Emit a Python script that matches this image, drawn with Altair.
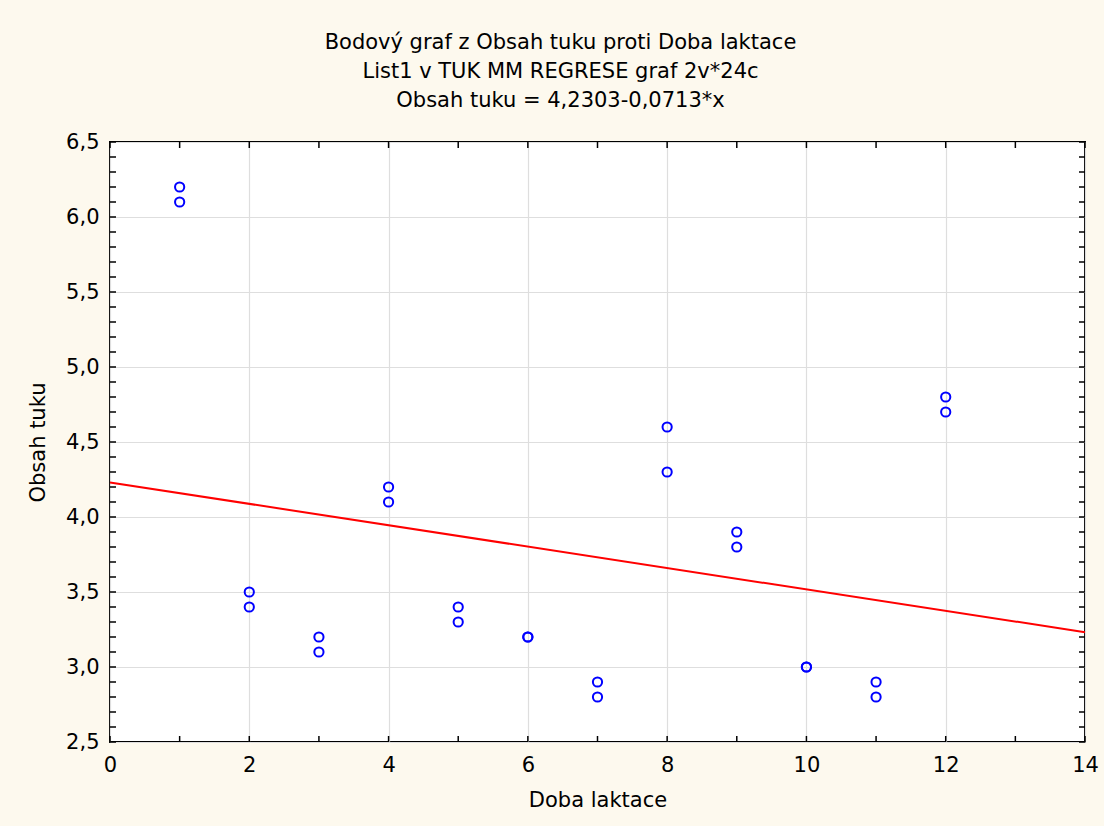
import altair as alt
import numpy as np
import pandas as pd

# Lactation period (months) and fat content measured for each cow sample
doba_laktace = [1, 1, 2, 2, 3, 3, 4, 4, 5, 5, 6, 6,
                7, 7, 8, 8, 9, 9, 10, 10, 11, 11, 12, 12]
obsah_tuku = [6.2, 6.1, 3.5, 3.4, 3.2, 3.1, 4.2, 4.1, 3.4, 3.3, 3.2, 3.2,
              2.9, 2.8, 4.6, 4.3, 3.9, 3.8, 3.0, 3.0, 2.9, 2.8, 4.8, 4.7]

# Fitted regression: Obsah tuku = 4,2303 - 0,0713 * x
intercept = 4.2303
slope = -0.0713
x_range = [0, 14]

x_ticks = list(range(0, 15, 2))
y_ticks = [2.5, 3.0, 3.5, 4.0, 4.5, 5.0, 5.5, 6.0, 6.5]

title_lines = [
    "Bodový graf z Obsah tuku proti Doba laktace",
    "List1 v TUK MM REGRESE graf 2v*24c",
    "Obsah tuku = 4,2303-0,0713*x",
]

W, H = 975, 600
FONT = "DejaVu Sans"

points = pd.DataFrame({"doba": doba_laktace, "obsah": obsah_tuku})
fit = pd.DataFrame({"doba": x_range,
                    "obsah": [intercept + slope * v for v in x_range]})
minor_y = pd.DataFrame({"obsah": np.round(np.arange(2.5, 6.5001, 0.1), 1)})
minor_x = pd.DataFrame({"doba": np.arange(0, 15, 1)})

xscale = alt.Scale(domain=[0, 14], nice=False, zero=False)
yscale = alt.Scale(domain=[2.5, 6.5], nice=False, zero=False)

x_axis = alt.Axis(values=x_ticks, title="Doba laktace", grid=True,
                  labelExpr="format(datum.value, 'd')")
y_axis = alt.Axis(values=y_ticks, title="Obsah tuku", grid=True,
                  labelExpr="replace(format(datum.value, '.1f'), '.', ',')")

scatter = alt.Chart(points).mark_point(
    shape="circle", filled=False, color="#0000FF", size=85, strokeWidth=2, opacity=1
).encode(
    x=alt.X("doba:Q", scale=xscale, axis=x_axis),
    y=alt.Y("obsah:Q", scale=yscale, axis=y_axis),
)

line = alt.Chart(fit).mark_line(color="#FF0000", strokeWidth=2).encode(
    x=alt.X("doba:Q", scale=xscale),
    y=alt.Y("obsah:Q", scale=yscale),
)

# inward minor ticks on all four sides of the frame
tick_len = 6
left_ticks = alt.Chart(minor_y).mark_rule(color="black", strokeWidth=1.5).encode(
    y=alt.Y("obsah:Q", scale=yscale), x=alt.value(0), x2=alt.value(tick_len))
right_ticks = alt.Chart(minor_y).mark_rule(color="black", strokeWidth=1.5).encode(
    y=alt.Y("obsah:Q", scale=yscale), x=alt.value(W - tick_len), x2=alt.value(W))
bottom_ticks = alt.Chart(minor_x).mark_rule(color="black", strokeWidth=1.5).encode(
    x=alt.X("doba:Q", scale=xscale), y=alt.value(H - tick_len), y2=alt.value(H))
top_ticks = alt.Chart(minor_x).mark_rule(color="black", strokeWidth=1.5).encode(
    x=alt.X("doba:Q", scale=xscale), y=alt.value(0), y2=alt.value(tick_len))

chart = alt.layer(
    scatter, line, left_ticks, right_ticks, bottom_ticks, top_ticks
).properties(
    width=W,
    height=H,
    autosize=alt.AutoSizeParams(type="none"),
    padding={"left": 110, "top": 142, "right": 19, "bottom": 84},
    background="#FDF9EE",
    title=alt.TitleParams(
        text=title_lines, anchor="middle", frame="group", dx=-37,
        font=FONT, fontSize=21, fontWeight="normal", color="black",
        lineHeight=29, offset=20,
    ),
).configure_view(
    fill="white", stroke="black", strokeWidth=2,
).configure_axis(
    domain=False, ticks=False, labelFlush=False,
    gridColor="#DEDEDE", gridWidth=1.2,
    labelFont=FONT, labelFontSize=21, labelColor="black",
    titleFont=FONT, titleFontSize=21, titleFontWeight="normal", titleColor="black",
).configure_axisX(
    labelPadding=12, titlePadding=14,
).configure_axisY(
    labelPadding=11, titlePadding=17,
)

chart.save("out.html", embed_options={"renderer": "svg", "actions": False})
